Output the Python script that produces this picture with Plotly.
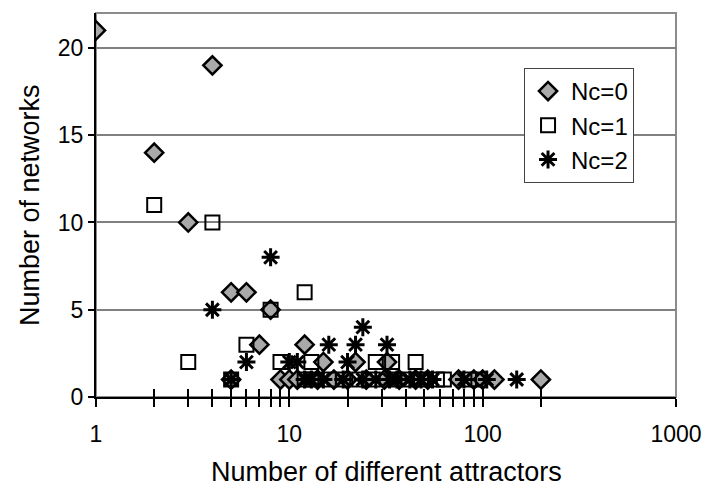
import plotly.graph_objects as go

# ---- data ----
nc0_x = [1, 2, 3, 4, 5, 6, 7, 8, 12, 15, 22, 32,
         5, 9, 10, 11, 14, 17, 20, 25, 31, 37, 45, 52, 75, 90, 100, 115, 200]
nc0_y = [21, 14, 10, 19, 6, 6, 3, 5, 3, 2, 2, 2,
         1, 1, 1, 1, 1, 1, 1, 1, 1, 1, 1, 1, 1, 1, 1, 1, 1]

nc1_x = [2, 3, 4, 5, 6, 8, 9, 12, 13, 28, 34, 45,
         12, 13, 16, 19, 23, 27, 35, 40, 48, 58, 63, 85, 95]
nc1_y = [11, 2, 10, 1, 3, 5, 2, 6, 2, 2, 2, 2,
         1, 1, 1, 1, 1, 1, 1, 1, 1, 1, 1, 1, 1]

nc2_x = [4, 6, 8, 5, 16, 22, 24, 32, 10, 11, 20,
         12, 13, 15, 19, 24, 28, 33, 36, 42, 48, 55, 80, 105, 150]
nc2_y = [5, 2, 8, 1, 3, 3, 4, 3, 2, 2, 2,
         1, 1, 1, 1, 1, 1, 1, 1, 1, 1, 1, 1, 1, 1]

tick_vals = [1, 2, 3, 4, 5, 6, 7, 8, 9, 10, 20, 30, 40, 50, 60, 70, 80, 90, 100, 200, 1000]
tick_text = ["1", "", "", "", "", "", "", "", "", "10", "", "", "", "", "", "", "", "", "100", "", "1000"]
y_ticks = [0, 5, 10, 15, 20]

x_title = "Number of different attractors"
y_title = "Number of networks"

FONT = "Liberation Sans, Arial, sans-serif"

fig = go.Figure()
fig.add_trace(go.Scatter(
    x=nc0_x, y=nc0_y, mode="markers", name="Nc=0",
    marker=dict(symbol="diamond", size=14, color="#a9a9a9",
                line=dict(color="black", width=2.5))))
fig.add_trace(go.Scatter(
    x=nc1_x, y=nc1_y, mode="markers", name="Nc=1",
    marker=dict(symbol="square-open", size=14, color="black",
                line=dict(color="black", width=2))))
fig.add_trace(go.Scatter(
    x=nc2_x, y=nc2_y, mode="markers", name="Nc=2",
    marker=dict(symbol="asterisk-open", size=15, color="black",
                line=dict(color="black", width=3))))
# empty trace to carry the overlaid axis used for the inward half of the ticks
fig.add_trace(go.Scatter(x=[], y=[], xaxis="x2", showlegend=False, hoverinfo="skip"))

fig.update_layout(
    width=702, height=489,
    margin=dict(l=96, r=26, t=13, b=92, autoexpand=False),
    paper_bgcolor="white", plot_bgcolor="white",
    font=dict(family=FONT, size=23, color="black"),
    showlegend=True,
    legend=dict(x=0.738, y=0.857, xanchor="left", yanchor="top",
                bgcolor="white", bordercolor="#444", borderwidth=1,
                font=dict(size=24, family=FONT), itemwidth=36),
    xaxis=dict(type="log", range=[0, 3], tickmode="array",
               tickvals=tick_vals, ticktext=tick_text,
               ticks="outside", ticklen=8, tickwidth=2, tickcolor="black",
               showline=True, linecolor="black", linewidth=2,
               showgrid=False, zeroline=False, ticklabelstandoff=7,
               automargin=False, tickfont=dict(size=23, family=FONT)),
    xaxis2=dict(type="log", range=[0, 3], overlaying="x", anchor="y", side="bottom",
                tickmode="array", tickvals=tick_vals, showticklabels=False,
                ticks="inside", ticklen=8, tickwidth=2, tickcolor="black",
                showline=False, showgrid=False, zeroline=False, automargin=False),
    yaxis=dict(range=[0, 22], tickmode="array", tickvals=y_ticks,
               ticks="outside", ticklen=6, tickwidth=1.5, tickcolor="black",
               showline=True, linecolor="black", linewidth=2,
               showgrid=True, gridcolor="#808080", gridwidth=1.5,
               zeroline=False, automargin=False, tickfont=dict(size=23, family=FONT)),
    annotations=[
        dict(text=x_title, xref="paper", yref="paper", x=0.501, y=0,
             xanchor="center", yanchor="middle", yshift=-75, showarrow=False,
             font=dict(size=27, family=FONT)),
        dict(text=y_title, xref="paper", yref="paper", x=0, y=0.5,
             xanchor="center", yanchor="middle", xshift=-66, textangle=-90,
             showarrow=False, font=dict(size=27, family=FONT)),
    ],
    shapes=[dict(type="rect", xref="paper", yref="paper", x0=0, x1=1, y0=0, y1=1,
                 line=dict(color="#8c8c8c", width=2), layer="below")],
)

fig.write_html("out.html")
